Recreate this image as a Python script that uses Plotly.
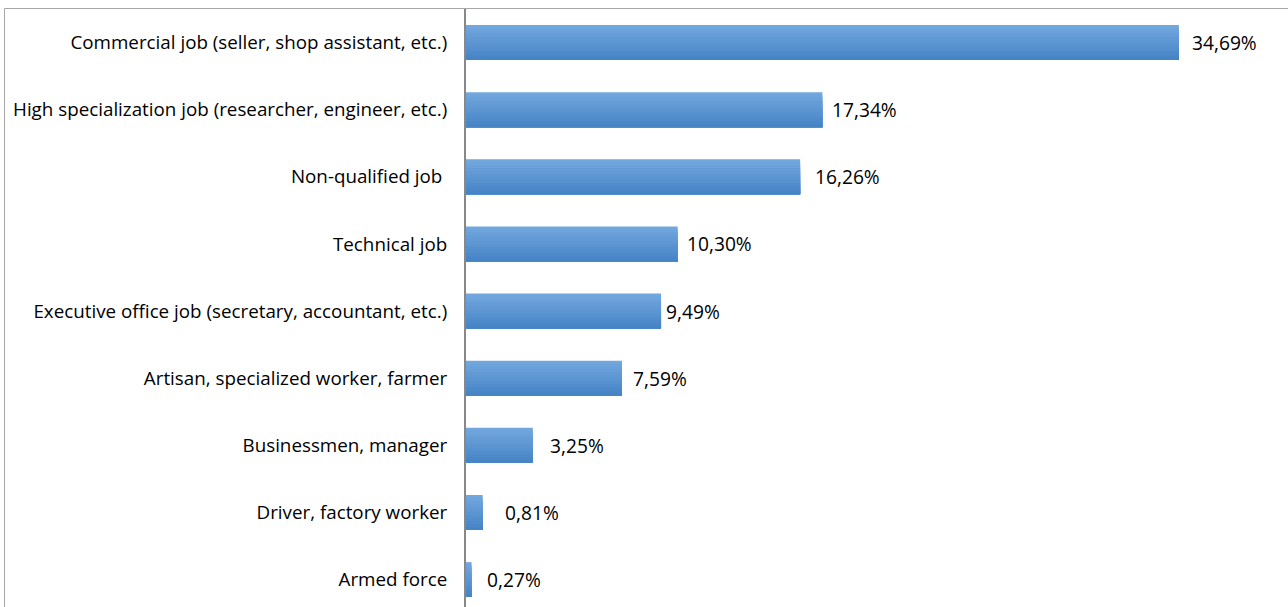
import plotly.graph_objects as go

# Share of respondents by type of job (%)
categories = [
    "Commercial job (seller, shop assistant, etc.)",
    "High specialization job (researcher, engineer, etc.)",
    "Non-qualified job\u00a0",
    "Technical job",
    "Executive office job (secretary, accountant, etc.)",
    "Artisan, specialized worker, farmer",
    "Businessmen, manager",
    "Driver, factory worker",
    "Armed force",
]
values = [34.69, 17.34, 16.26, 10.30, 9.49, 7.59, 3.25, 0.81, 0.27]
value_labels = ["34,69%", "17,34%", "16,26%", "10,30%", "9,49%",
                "7,59%", "3,25%", "0,81%", "0,27%"]

# pixel gap between each bar end and its label
label_pad = [11, 8, 13, 7, 3, 9, 15, 20, 13]

FONT = "Open Sans"
TICK_SIZE = 18.8
VALUE_SIZE = 19.2
positions = list(range(len(categories)))

# vertical gradient: light top -> darker bottom, built from nested bars
top_rgb = (114, 167, 222)
bot_rgb = (70, 132, 198)
n_strips = 12
bar_w = 0.52

fig = go.Figure()
for i in range(n_strips):
    t = i / (n_strips - 1)
    c = tuple(round(a + (b - a) * t) for a, b in zip(top_rgb, bot_rgb))
    fig.add_trace(go.Bar(
        x=values,
        y=positions,
        orientation="h",
        width=bar_w - i * bar_w / n_strips,
        offset=-bar_w / 2 + i * bar_w / n_strips,
        marker=dict(color=f"rgb{c}", line=dict(width=0)),
        hoverinfo="skip",
        showlegend=False,
    ))

for v, p, lab, pad in zip(values, positions, value_labels, label_pad):
    fig.add_annotation(
        x=v, y=p, text=lab, showarrow=False,
        xanchor="left", yanchor="middle", xshift=pad,
        font=dict(family=FONT, size=VALUE_SIZE, color="#000000"),
    )

W, H = 1288, 607
ml, mt = 466, 9
plot_w = W - ml
plot_h = H - mt

# chart frame (top and left edges)
frame_x = (4.5 - ml) / plot_w
fig.add_shape(type="line", xref="paper", yref="paper",
              x0=frame_x, x1=1, y0=1 + 0.5 / plot_h, y1=1 + 0.5 / plot_h,
              line=dict(color="#a6a6a6", width=1))
fig.add_shape(type="line", xref="paper", yref="paper",
              x0=frame_x, x1=frame_x, y0=1 + 0.5 / plot_h, y1=-0.1,
              line=dict(color="#a6a6a6", width=1))

fig.update_layout(
    width=W, height=H,
    margin=dict(l=ml, r=0, t=mt, b=0),
    plot_bgcolor="white", paper_bgcolor="white",
    barmode="overlay",
    font=dict(family=FONT, size=TICK_SIZE, color="#000000"),
    xaxis=dict(range=[0, 40], visible=False, fixedrange=True),
    yaxis=dict(
        range=[-0.5 + plot_h / 67.125, -0.5],
        tickmode="array", tickvals=positions, ticktext=categories,
        showline=True, linecolor="#888888", linewidth=2,
        showgrid=False, zeroline=False, ticks="",
        ticklabelstandoff=13,
        tickfont=dict(family=FONT, size=TICK_SIZE, color="#000000"),
    ),
)

fig.write_html("out.html")
